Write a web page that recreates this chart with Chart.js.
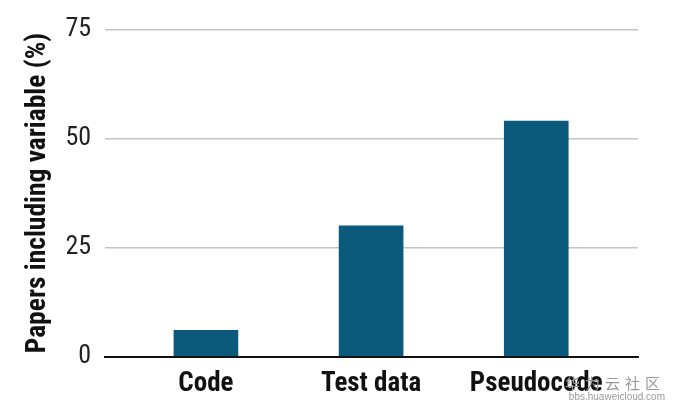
<!DOCTYPE html>
<html>
<head>
<meta charset="utf-8">
<script src="https://cdn.jsdelivr.net/npm/chart.js@4"></script>
<style>
    html, body { margin: 0; padding: 0; background: #fff; }
    #wrap { position: relative; width: 679px; height: 411px; }
    #mark { position: absolute; right: 14px; bottom: 9px; text-align: right; color: #9a9a9a;
            font-family: "Noto Sans CJK SC", sans-serif; line-height: 1; }
    #mark .cn { font-size: 15px; letter-spacing: 5px; margin-bottom: 2px; }
    #mark .en { font-size: 10px; font-family: "Liberation Sans", sans-serif; }
</style>
</head>
<body>
<div id="wrap">
    <canvas id="chart"></canvas>
    <div id="mark"><div class="cn">华为云社区</div><div class="en">bbs.huaweicloud.com</div></div>
</div>
<script>
// Data
const categories = ['Code', 'Test data', 'Pseudocode'];
const shares = [6, 30, 54];
const yTicks = [0, 25, 50, 75];

const narrow = "'Roboto Condensed', 'Liberation Sans', sans-serif";

const ctx = document.getElementById('chart').getContext('2d');
new Chart(ctx, {
    type: 'bar',
    data: {
        datasets: [{
            data: shares.map((v, i) => ({ x: i, y: v })),
            backgroundColor: '#0b5a7b',
            barThickness: 64
        }]
    },
    options: {
        responsive: true,
        maintainAspectRatio: false,
        animation: false,
        layout: { padding: { top: 26, right: 41, left: 24, bottom: 8 } },
        plugins: { legend: { display: false }, tooltip: { enabled: false } },
        scales: {
            x: {
                type: 'linear',
                offset: false,
                min: -0.61,
                max: 2.616,
                grid: { display: false },
                border: { display: true, color: '#111', width: 2 },
                ticks: {
                    stepSize: 1,
                    includeBounds: false,
                    autoSkip: false,
                    maxRotation: 0,
                    color: '#111',
                    padding: 3,
                    font: { family: narrow, size: 27, weight: 'bold' },
                    callback: v => categories[v] ?? ''
                }
            },
            y: {
                min: yTicks[0],
                max: yTicks[yTicks.length - 1],
                afterBuildTicks: s => { s.ticks = yTicks.map(v => ({ value: v })); },
                border: { display: false },
                grid: { color: '#c4c4c4', lineWidth: 1.5, drawTicks: false },
                ticks: {
                    color: '#222',
                    padding: 14,
                    font: { family: narrow, size: 26 }
                },
                title: {
                    display: true,
                    text: 'Papers including variable (%)',
                    color: '#111',
                    padding: 0,
                    font: { family: narrow, size: 27.5, weight: 'bold', lineHeight: 1 }
                }
            }
        }
    }
});
</script>
</body>
</html>
